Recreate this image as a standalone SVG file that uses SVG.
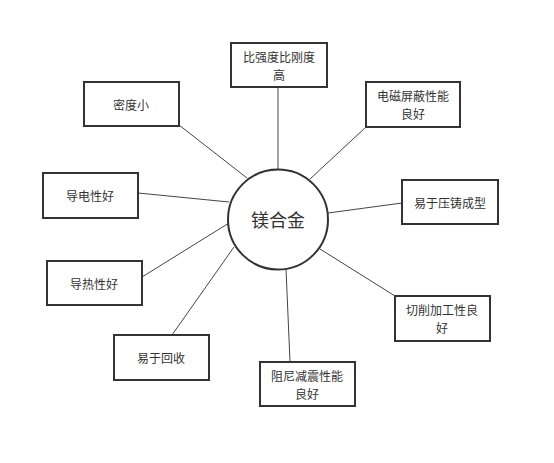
<svg xmlns="http://www.w3.org/2000/svg" width="554" height="463" viewBox="0 0 554 463">
<style>
.box{fill:#fff;stroke:#333;stroke-width:2}
.t{font-family:"Noto Sans CJK SC","Liberation Sans",sans-serif;font-size:12px;fill:#333;text-anchor:middle;dominant-baseline:central}
.c{stroke:#444;stroke-width:1;fill:none}
</style>
<rect width="554" height="463" fill="#fff"/>
<g id="connectors">
<line class="c" x1="278" y1="87" x2="278" y2="170"/>
<line class="c" x1="366" y1="127" x2="310" y2="179"/>
<line class="c" x1="402" y1="203" x2="328" y2="213"/>
<line class="c" x1="395" y1="296" x2="320" y2="249"/>
<line class="c" x1="290" y1="362" x2="286" y2="269"/>
<line class="c" x1="172" y1="335" x2="234" y2="247"/>
<line class="c" x1="142" y1="277" x2="229" y2="223"/>
<line class="c" x1="138" y1="193" x2="229" y2="202"/>
<line class="c" x1="179" y1="125" x2="247" y2="178"/>
</g>
<g id="center">
<circle cx="278" cy="219.5" r="50" fill="#fff" stroke="#333" stroke-width="2"/>
<text class="t" x="278" y="219" style="font-size:18px">镁合金</text>
</g>
<g id="n1">
<rect class="box" x="231" y="43" width="96" height="44"/>
<text class="t" x="279" y="56.5">比强度比刚度</text>
<text class="t" x="279" y="74">高</text>
</g>
<g id="n2">
<rect class="box" x="366" y="82" width="94" height="45"/>
<text class="t" x="413" y="95.5">电磁屏蔽性能</text>
<text class="t" x="413" y="113">良好</text>
</g>
<g id="n3">
<rect class="box" x="402" y="180" width="96" height="44"/>
<text class="t" x="450" y="202">易于压铸成型</text>
</g>
<g id="n4">
<rect class="box" x="395" y="296" width="95" height="45"/>
<text class="t" x="442" y="309.5">切削加工性良</text>
<text class="t" x="442" y="327">好</text>
</g>
<g id="n5">
<rect class="box" x="260" y="362" width="95" height="44"/>
<text class="t" x="307" y="375.5">阻尼减震性能</text>
<text class="t" x="307" y="393">良好</text>
</g>
<g id="n6">
<rect class="box" x="114" y="335" width="95" height="45"/>
<text class="t" x="161" y="357">易于回收</text>
</g>
<g id="n7">
<rect class="box" x="47" y="261" width="95" height="44"/>
<text class="t" x="94" y="283">导热性好</text>
</g>
<g id="n8">
<rect class="box" x="43" y="173" width="95" height="45"/>
<text class="t" x="90" y="195">导电性好</text>
</g>
<g id="n9">
<rect class="box" x="84" y="82" width="95" height="44"/>
<text class="t" x="131" y="104">密度小</text>
</g>
</svg>
